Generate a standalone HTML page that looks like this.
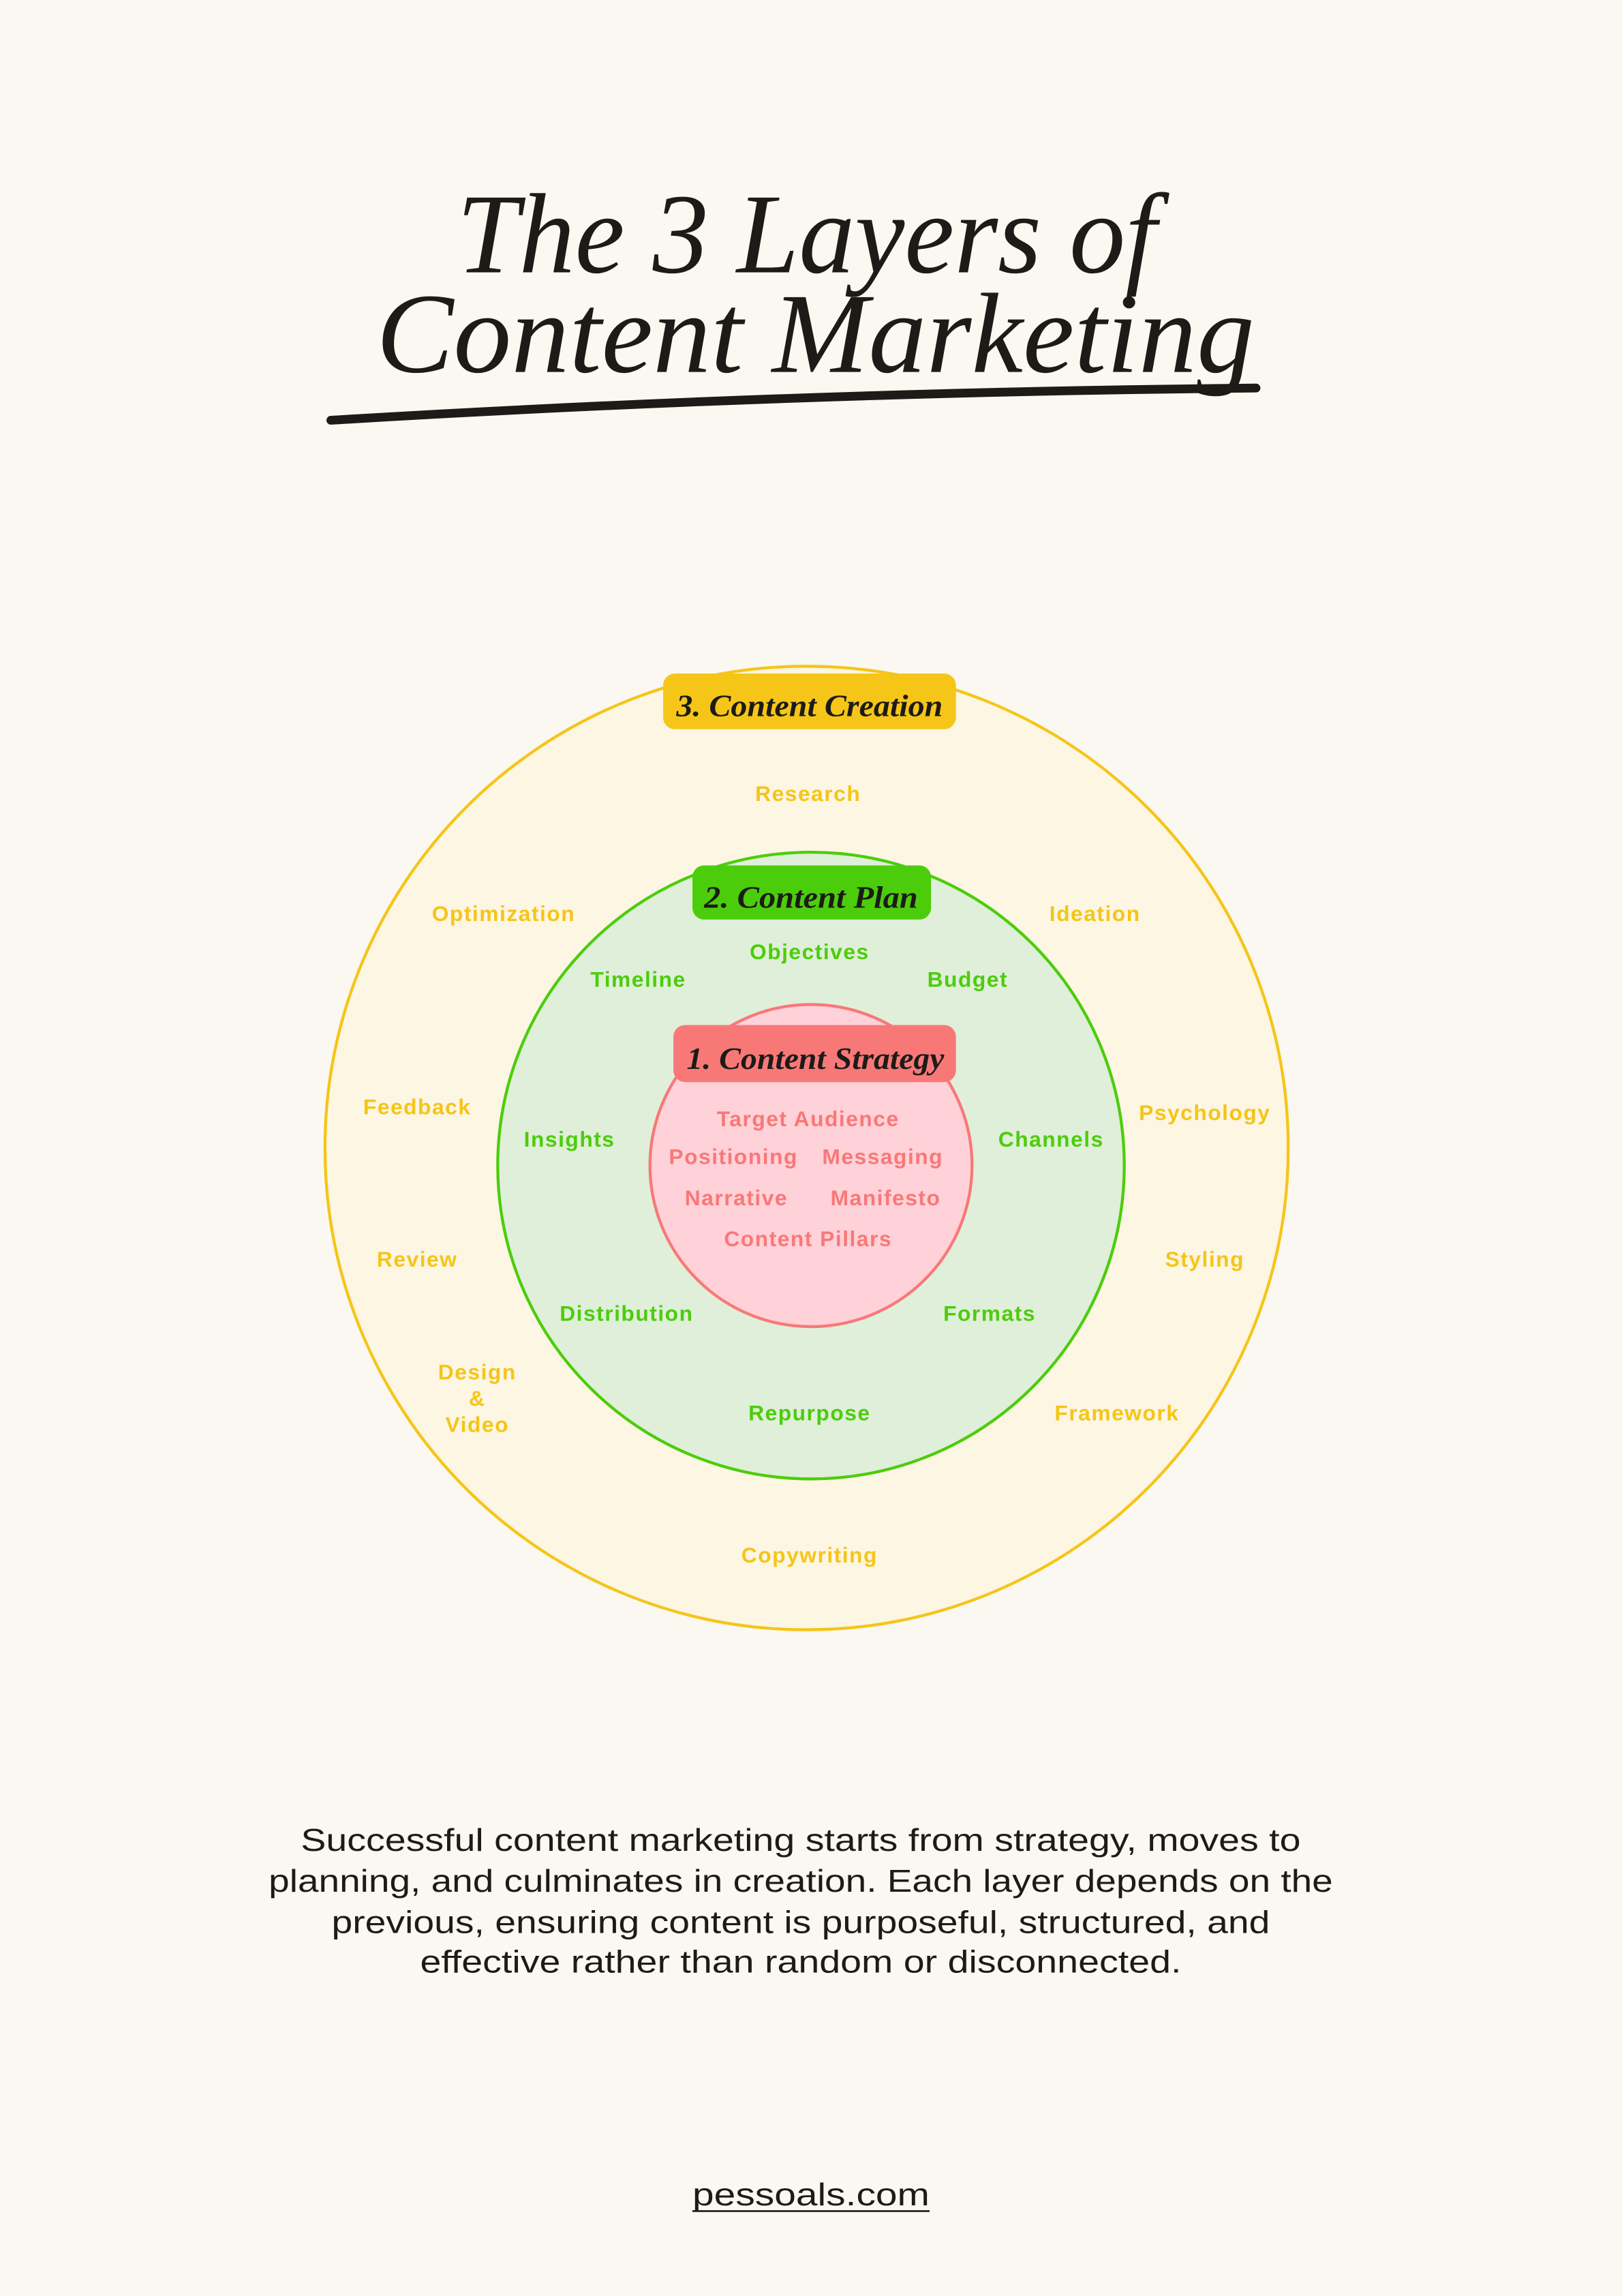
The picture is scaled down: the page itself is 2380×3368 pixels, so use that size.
<!DOCTYPE html>
<html><head><meta charset="utf-8"><style>
html,body{margin:0;padding:0;background:#faf8f0;}
svg{display:block;}
.y,.g,.p{font-family:"Liberation Sans",sans-serif;font-weight:bold;font-size:14.8px;letter-spacing:0.7px;text-anchor:middle;}
.y{fill:#f5c518;}
.g{fill:#4ccd0c;}
.p{fill:#f87878;}
.b{fill:#1c1b17;font-family:"Liberation Serif",serif;font-style:italic;font-weight:bold;font-size:21px;text-anchor:middle;}
.t{fill:#1c1b17;font-family:"Liberation Serif",serif;font-style:italic;font-size:78px;text-anchor:middle;}
.d{fill:#1c1b17;font-family:"Liberation Sans",sans-serif;font-size:21.5px;text-anchor:middle;}
</style></head><body>
<svg width="2380" height="3368" viewBox="0 0 1108 1568" xmlns="http://www.w3.org/2000/svg">
<rect width="1108" height="1568" fill="#faf8f0"/>
<text class="t" x="551" y="186" textLength="478" lengthAdjust="spacingAndGlyphs">The 3 Layers of</text>
<text class="t" x="557" y="254" textLength="600" lengthAdjust="spacingAndGlyphs">Content Marketing</text>
<path d="M226 287 Q540 268 858 265" stroke="#1c1b17" stroke-width="6" fill="none" stroke-linecap="round"/>

<circle cx="551" cy="784" r="329" fill="#fdf6e3" stroke="#f5c518" stroke-width="2"/>
<circle cx="554" cy="796" r="214" fill="#e0efd9" stroke="#4ccd0c" stroke-width="2"/>
<circle cx="554" cy="796" r="110" fill="#ffd1d8" stroke="#f87878" stroke-width="2"/>

<rect x="453" y="460" width="200" height="38" rx="8" fill="#f5c518"/>
<text class="b" x="553" y="489" textLength="182" lengthAdjust="spacingAndGlyphs">3. Content Creation</text>
<rect x="473" y="591" width="163" height="37" rx="8" fill="#4ccd0c"/>
<text class="b" x="554" y="620" textLength="146" lengthAdjust="spacingAndGlyphs">2. Content Plan</text>
<rect x="460" y="700" width="193" height="39" rx="8" fill="#f87878"/>
<text class="b" x="557" y="730" textLength="176" lengthAdjust="spacingAndGlyphs">1. Content Strategy</text>

<text class="y" x="552" y="547">Research</text>
<text class="y" x="344" y="629">Optimization</text>
<text class="y" x="748" y="629">Ideation</text>
<text class="y" x="285" y="761">Feedback</text>
<text class="y" x="823" y="765">Psychology</text>
<text class="y" x="285" y="865">Review</text>
<text class="y" x="823" y="865">Styling</text>
<text class="y" x="326" y="942">Design</text>
<text class="y" x="326" y="960">&amp;</text>
<text class="y" x="326" y="978">Video</text>
<text class="y" x="763" y="970">Framework</text>
<text class="y" x="553" y="1067">Copywriting</text>

<text class="g" x="553" y="655">Objectives</text>
<text class="g" x="436" y="674">Timeline</text>
<text class="g" x="661" y="674">Budget</text>
<text class="g" x="389" y="783">Insights</text>
<text class="g" x="718" y="783">Channels</text>
<text class="g" x="428" y="902">Distribution</text>
<text class="g" x="676" y="902">Formats</text>
<text class="g" x="553" y="970">Repurpose</text>

<text class="p" x="552" y="769">Target Audience</text>
<text class="p" x="501" y="795">Positioning</text>
<text class="p" x="603" y="795">Messaging</text>
<text class="p" x="503" y="823">Narrative</text>
<text class="p" x="605" y="823">Manifesto</text>
<text class="p" x="552" y="851">Content Pillars</text>

<text class="d" x="547" y="1264" textLength="683" lengthAdjust="spacingAndGlyphs">Successful content marketing starts from strategy, moves to</text>
<text class="d" x="547" y="1292" textLength="727" lengthAdjust="spacingAndGlyphs">planning, and culminates in creation. Each layer depends on the</text>
<text class="d" x="547" y="1320" textLength="641" lengthAdjust="spacingAndGlyphs">previous, ensuring content is purposeful, structured, and</text>
<text class="d" x="547" y="1347" textLength="520" lengthAdjust="spacingAndGlyphs">effective rather than random or disconnected.</text>
<text class="d" x="554" y="1506" font-size="22.5" textLength="162" lengthAdjust="spacingAndGlyphs">pessoals.com</text>
<line x1="473" y1="1510" x2="635" y2="1510" stroke="#1c1b17" stroke-width="1.2"/>
</svg>
</body></html>
